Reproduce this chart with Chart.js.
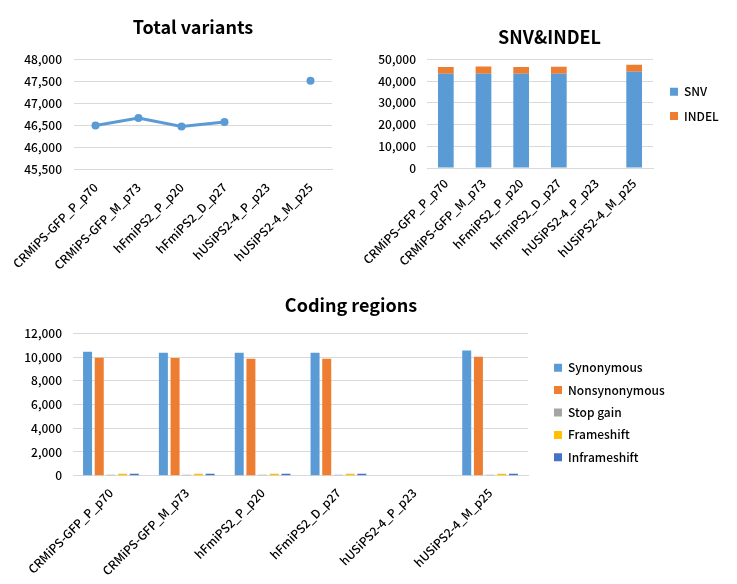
<!DOCTYPE html>
<html><head><meta charset="utf-8">
<script src="https://cdn.jsdelivr.net/npm/chart.js@4"></script>
<style>
html,body{margin:0;padding:0;background:#fff;width:737px;height:584px;overflow:hidden}
canvas{position:absolute}
#c1{left:0;top:0}
#c2{left:362px;top:0}
#c3{left:0;top:280px}
</style></head><body>
<canvas id="c1" width="386" height="290"></canvas>
<canvas id="c2" width="375" height="290"></canvas>
<canvas id="c3" width="702" height="304"></canvas>
<script>
// ---- data ----
const categories = ['CRMiPS-GFP_P_p70','CRMiPS-GFP_M_p73','hFmiPS2_P_p20','hFmiPS2_D_p27','hUSiPS2-4_P_p23','hUSiPS2-4_M_p25'];
const totalVariants = [46490, 46660, 46470, 46570, null, 47510];
const snv   = [43400, 43400, 43400, 43400, null, 44300];
const indel = [3090, 3260, 3070, 3170, null, 3210];
const synonymous    = [10450, 10360, 10360, 10360, null, 10560];
const nonsynonymous = [9940, 9920, 9860, 9860, null, 10020];
const stopGain      = [90, 90, 90, 90, null, 90];
const frameshift    = [170, 170, 170, 170, null, 170];
const inframeshift  = [160, 160, 160, 160, null, 160];
const titles = ['Total variants', 'SNV&INDEL', 'Coding regions'];
const seriesNames2 = ['SNV', 'INDEL'];
const seriesNames3 = ['Synonymous', 'Nonsynonymous', 'Stop gain', 'Frameshift', 'Inframeshift'];

// ---- style ----
const C = {blue:'#5B9BD5', orange:'#ED7D31', gray:'#A5A5A5', yellow:'#FFC000', dblue:'#4472C4', grid:'#D9D9D9'};
Chart.defaults.font.family = '"Noto Sans CJK KR","Noto Sans",sans-serif';
Chart.defaults.font.size = 12;
Chart.defaults.font.weight = 500;
Chart.defaults.color = '#000';
const fmt = v => Number(v).toLocaleString('en-US');
const F = {size: 12, weight: 500};

const placeBoxes = {
  id: 'placeBoxes',
  beforeDraw(chart, args, opts) {
    const t = chart.titleBlock;
    if (t) { t.left = 0; t.right = chart.width; t.width = chart.width; }
    const l = chart.legend;
    if (l && opts.left != null) {
      l.left = opts.left; l.top = opts.top;
      l.right = l.left + l.width; l.bottom = l.top + l.height;
    }
  }
};

function yAxis(min, max, step, width, pad) {
  return {
    min, max,
    ticks: {stepSize: step, callback: fmt, padding: pad, color: '#000', font: F},
    grid: {color: C.grid, lineWidth: 1, drawTicks: false},
    border: {display: false},
    afterFit(s) { s.width = width; }
  };
}
function xAxis(height, pad, stacked) {
  return {
    stacked: !!stacked,
    offset: true,
    ticks: {minRotation: 45, maxRotation: 45, autoSkip: false, padding: pad, color: '#000', font: F},
    grid: {display: false, drawTicks: false},
    border: {display: true, color: C.grid, width: 1},
    afterFit(s) { s.height = height; s.paddingLeft = 0; s.paddingRight = 0; }
  };
}
function titleOpt(text, top, bottom) {
  return {display: true, text, color: '#000', font: {size: 18, weight: 'bold'}, padding: {top, bottom}};
}

// ---- chart 1: Total variants ----
new Chart(document.getElementById('c1'), {
  type: 'line',
  data: {labels: categories, datasets: [{
    label: 'Total variants', data: totalVariants,
    borderColor: C.blue, backgroundColor: C.blue, borderWidth: 3,
    pointRadius: 4, pointBorderWidth: 0, pointBackgroundColor: C.blue,
    tension: 0, spanGaps: false
  }]},
  options: {
    responsive: false, animation: false, devicePixelRatio: 1,
    layout: {padding: {left: 0, right: 54, top: 0, bottom: 0}},
    plugins: {legend: {display: false}, tooltip: {enabled: false}, title: titleOpt(titles[0], 16.2, 21.5), placeBoxes: {}},
    scales: {
      x: xAxis(121, 11),
      y: yAxis(45500, 48000, 500, 74, 12)
    }
  },
  plugins: [placeBoxes]
});

// ---- chart 2: SNV & INDEL ----
new Chart(document.getElementById('c2'), {
  type: 'bar',
  data: {labels: categories, datasets: [
    {label: seriesNames2[0], data: snv, backgroundColor: C.blue},
    {label: seriesNames2[1], data: indel, backgroundColor: C.orange}
  ]},
  options: {
    responsive: false, animation: false, devicePixelRatio: 1,
    datasets: {bar: {categoryPercentage: 1, barPercentage: 0.417}},
    layout: {padding: {left: 0, right: 84, top: 0, bottom: 0}},
    plugins: {
      tooltip: {enabled: false},
      title: titleOpt(titles[1], 26.2, 11.5),
      legend: {position: 'chartArea', align: 'start',
        labels: {boxWidth: 8, boxHeight: 8, padding: 12.3, color: '#000', font: F}},
      placeBoxes: {left: 295.7, top: 73.4}
    },
    scales: {
      x: xAxis(122, 8, true),
      y: Object.assign(yAxis(0, 50000, 10000, 65, 11), {stacked: true})
    }
  },
  plugins: [placeBoxes]
});

// ---- chart 3: Coding regions ----
new Chart(document.getElementById('c3'), {
  type: 'bar',
  data: {labels: categories, datasets: [
    {label: seriesNames3[0], data: synonymous, backgroundColor: C.blue},
    {label: seriesNames3[1], data: nonsynonymous, backgroundColor: C.orange},
    {label: seriesNames3[2], data: stopGain, backgroundColor: C.gray},
    {label: seriesNames3[3], data: frameshift, backgroundColor: C.yellow},
    {label: seriesNames3[4], data: inframeshift, backgroundColor: C.dblue}
  ]},
  options: {
    responsive: false, animation: false, devicePixelRatio: 1,
    datasets: {bar: {categoryPercentage: 0.77, barPercentage: 0.77}},
    layout: {padding: {left: 0, right: 174, top: 0, bottom: 0}},
    plugins: {
      tooltip: {enabled: false},
      title: titleOpt(titles[2], 14.2, 17.5),
      legend: {position: 'chartArea', align: 'start',
        labels: {boxWidth: 8, boxHeight: 8, padding: 10.4, color: '#000', font: F}},
      placeBoxes: {left: 543.6, top: 71.3}
    },
    scales: {
      x: xAxis(108.3, 10),
      y: yAxis(0, 12000, 2000, 73, 11)
    }
  },
  plugins: [placeBoxes]
});
</script>
</body></html>
